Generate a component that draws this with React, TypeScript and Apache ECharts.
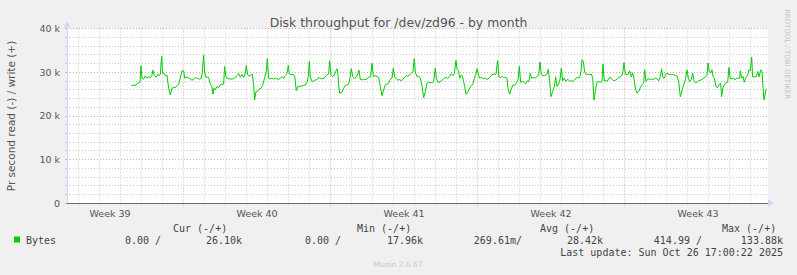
import React, { useEffect, useRef } from "react";
import * as echarts from "echarts";

const chartTitle = "Disk throughput for /dev/zd96 - by month";
const yAxisTitle = "Pr second read (-) / write (+)";
const creditText = "RRDTOOL / TOBI OETIKER";
const versionText = "Munin 2.0.67";

// x axis in days since Monday of week 39 (2025-09-22 00:00)
const viewStart = 1.45;
const viewEnd = 34.83;
const weekStarts = [7, 14, 21, 28];
const weekCenters = [3.5, 10.5, 17.5, 24.5, 31.5];
const weekLabels = ["Week 39", "Week 40", "Week 41", "Week 42", "Week 43"];

const yMax = 40000;
const yStep = 10000;

// legend
const legendHeaders = ["Cur (-/+)", "Min (-/+)", "Avg (-/+)", "Max (-/+)"];
const legendName = "Bytes";
const legendRead = ["0.00 /", "0.00 /", "269.61m/", "414.99 /"];
const legendWrite = ["26.10k", "17.96k", "28.42k", "133.88k"];
const lastUpdate = "Last update: Sun Oct 26 17:00:22 2025";

// [day, bytes per second written]
const writeBytes: [number, number][] = [
  [4.512, 27000], [4.702, 27000], [4.829, 27460], [4.925, 27690], [4.972, 31460], [5.02, 28620], [5.099, 28390], [5.179, 29150],
  [5.258, 28620], [5.337, 28920], [5.417, 28690], [5.496, 29310], [5.544, 30460], [5.607, 29230], [5.702, 28850], [5.782, 29540],
  [5.829, 29150], [5.893, 29540], [5.956, 33610], [6.004, 29770], [6.083, 29690], [6.131, 29150], [6.21, 29310], [6.29, 26310],
  [6.369, 24770], [6.448, 26310], [6.528, 26460], [6.607, 26460], [6.687, 26920], [6.766, 27230], [6.845, 28620], [6.925, 30310],
  [7.004, 30310], [7.052, 28620], [7.131, 28850], [7.242, 28690], [7.321, 28460], [7.401, 28150], [7.48, 28310], [7.56, 28770],
  [7.639, 28620], [7.75, 28390], [7.845, 28620], [7.893, 30000], [7.956, 33850], [8.004, 30000], [8.067, 28770], [8.131, 28920],
  [8.194, 28770], [8.274, 27230], [8.353, 26690], [8.401, 24920], [8.448, 26310], [8.512, 25920], [8.591, 26690], [8.671, 26460],
  [8.75, 27080], [8.829, 27230], [8.909, 27230], [8.956, 31310], [9.004, 29230], [9.067, 28620], [9.147, 28460], [9.226, 28460],
  [9.306, 28390], [9.385, 28540], [9.464, 28690],
  [9.544, 29230], [9.623, 29690], [9.702, 28850], [9.782, 29460], [9.861, 28770], [9.94, 29690], [9.988, 31540], [10.052, 29380],
  [10.131, 29150], [10.21, 29310], [10.274, 29540], [10.337, 27080], [10.385, 23620], [10.448, 25540], [10.528, 25540], [10.591, 26080],
  [10.687, 26310], [10.766, 26920], [10.861, 28770], [10.94, 30150], [10.988, 33080], [11.052, 28620], [11.131, 28460], [11.21, 28620],
  [11.29, 28390], [11.369, 28620], [11.448, 28460], [11.528, 28310], [11.607, 28620], [11.687, 29000], [11.766, 28540], [11.845, 29230],
  [11.925, 29690], [11.988, 31540], [12.036, 29620], [12.115, 29380], [12.21, 29460], [12.29, 29150], [12.369, 25770], [12.448, 26690],
  [12.56, 26770], [12.639, 26850], [12.718, 26920], [12.798, 27080], [12.877, 27690], [12.94, 28920], [12.988, 32460], [13.036, 28920],
  [13.115, 27850], [13.194, 28000], [13.274, 28230], [13.353, 28230], [13.433, 28850], [13.512, 28460], [13.591, 28620], [13.671, 28460],
  [13.75, 29000], [13.829, 29380], [13.909, 29620], [13.956, 32610], [14.02, 29380], [14.099, 29000], [14.179, 29230], [14.242, 30150],
  [14.306, 30770], [14.353, 29540],
  [14.393, 26690], [14.433, 25150], [14.544, 25390], [14.623, 26310], [14.702, 26920], [14.782, 27080], [14.861, 27230], [14.925, 28620],
  [14.988, 30770], [15.052, 29000], [15.131, 28460], [15.21, 28770], [15.274, 29230], [15.353, 30460], [15.417, 28310], [15.528, 28230],
  [15.623, 28310], [15.734, 28390], [15.813, 28850], [15.909, 28920], [15.972, 32000], [16.036, 29000], [16.131, 29150], [16.21, 29000],
  [16.29, 28770], [16.369, 26690], [16.448, 24620], [16.528, 25920], [16.607, 27080], [16.687, 27230], [16.766, 27460], [16.845, 28390],
  [16.925, 28620], [16.988, 30920], [17.052, 28920], [17.131, 28460], [17.21, 28150], [17.29, 28310], [17.369, 28000], [17.448, 28390],
  [17.528, 28850], [17.607, 29150], [17.687, 29080], [17.75, 29310], [17.845, 29690], [17.925, 30150], [17.988, 33080], [18.036, 30000],
  [18.115, 29000], [18.194, 29080], [18.274, 28620], [18.353, 26920], [18.433, 24160], [18.512, 25540], [18.591, 27460], [18.671, 27690],
  [18.75, 27540], [18.829, 27620], [18.909, 27770], [18.988, 30920], [19.036, 28620], [19.115, 27690], [19.194, 27690],
  [19.274, 28000], [19.385, 28460], [19.464, 28770], [19.575, 28620], [19.671, 29000], [19.75, 29690], [19.813, 29230], [19.893, 29540],
  [19.972, 32690], [20.02, 30690], [20.099, 30310], [20.147, 28620], [20.226, 29380], [20.29, 28920], [20.337, 27850], [20.385, 26690],
  [20.448, 24920], [20.544, 25540], [20.623, 26310], [20.702, 26920], [20.782, 27230], [20.845, 28620], [20.925, 29540], [20.972, 30770],
  [21.036, 29540], [21.099, 28620], [21.194, 28770], [21.29, 28460], [21.369, 28620], [21.448, 28310], [21.544, 28620], [21.607, 29000],
  [21.687, 29380], [21.798, 29540], [21.877, 29540], [21.956, 32610], [22.02, 28850], [22.099, 28770], [22.179, 29000], [22.242, 28770],
  [22.321, 28850], [22.401, 28620], [22.448, 26310], [22.528, 24920], [22.607, 26150], [22.687, 27080], [22.766, 26920], [22.845, 27460],
  [22.925, 28150], [22.988, 31310], [23.052, 27690], [23.131, 27850], [23.21, 27690], [23.29, 27380], [23.369, 28000], [23.448, 27850],
  [23.512, 29770], [23.575, 28620], [23.671, 28770], [23.75, 28620], [23.829, 29000], [23.909, 29230], [23.972, 32310], [24.036, 29380],
  [24.115, 29150], [24.194, 29230],
  [24.306, 29540], [24.369, 30620], [24.433, 27850], [24.496, 24390], [24.575, 25540], [24.655, 26690], [24.718, 28920], [24.782, 26690],
  [24.861, 27230], [24.925, 28230], [24.988, 30920], [25.052, 28000], [25.131, 28620], [25.21, 27850], [25.29, 28390], [25.369, 28000],
  [25.448, 28000], [25.528, 27850], [25.607, 28150], [25.687, 28620], [25.766, 28770], [25.861, 28770], [25.925, 30150], [25.972, 32850],
  [26.036, 32460], [26.099, 30000], [26.179, 29380], [26.258, 29540], [26.337, 29380], [26.417, 29540], [26.48, 28770], [26.544, 23620],
  [26.607, 25540], [26.687, 27690], [26.766, 27850], [26.845, 27690], [26.925, 27850], [26.972, 31850], [27.036, 28000], [27.115, 28000],
  [27.194, 28000], [27.258, 28620], [27.321, 28850], [27.401, 28390], [27.48, 28000], [27.56, 28150], [27.639, 28390], [27.718, 28770],
  [27.798, 28920], [27.877, 29230], [27.925, 30150], [27.972, 32150], [28.036, 29540], [28.115, 29380], [28.179, 29540], [28.242, 30310],
  [28.321, 28920], [28.385, 29850], [28.448, 28620], [28.512, 26310], [28.591, 25150], [28.671, 25540], [28.75, 26460], [28.829, 27080],
  [28.909, 27460], [28.956, 30540], [29.02, 27850], [29.099, 28390], [29.179, 28460],
  [29.226, 28230], [29.306, 28460], [29.385, 28310], [29.464, 28620], [29.544, 28460], [29.623, 28000], [29.702, 29000], [29.766, 30770],
  [29.829, 28770], [29.893, 28620], [29.956, 29540], [30.02, 29690], [30.099, 29540], [30.179, 29380], [30.258, 29540], [30.337, 29380],
  [30.417, 29230], [30.496, 29150], [30.575, 27850], [30.655, 24390], [30.734, 25690], [30.813, 27080], [30.893, 28230], [30.972, 30540],
  [31.036, 28620], [31.099, 27850], [31.179, 28230], [31.242, 29770], [31.306, 28000], [31.369, 27540], [31.448, 27690], [31.528, 28000],
  [31.607, 28150], [31.687, 28310], [31.766, 28620], [31.845, 28920], [31.925, 29230], [31.972, 32080], [32.036, 30310], [32.099, 29770],
  [32.163, 30540], [32.21, 29000], [32.274, 28620], [32.353, 26690], [32.433, 26460], [32.512, 27230], [32.575, 27460], [32.623, 24390],
  [32.687, 26460], [32.75, 27080], [32.829, 27540], [32.909, 27690], [32.972, 31080], [33.036, 28460], [33.099, 28460], [33.179, 28620],
  [33.258, 28230], [33.321, 28620], [33.401, 28620], [33.48, 28620], [33.512, 30310], [33.575, 28620], [33.639, 29000], [33.702, 27690],
  [33.766, 28620], [33.861, 29230], [33.925, 30540], [33.988, 30310], [34.052, 33460], [34.099, 28920], [34.179, 28920], [34.274, 28920],
  [34.337, 30150], [34.401, 28920], [34.48, 30540], [34.544, 30150], [34.591, 26690], [34.639, 23620], [34.74, 26100],
];

const GREEN = "#00CC00";
const MINOR = "#c9c9c9";
const MAJOR = "#e6a3a3";
const AXIS = "#CFD6F8";
const TEXT = "#555555";
const SANS = '"DejaVu Sans", sans-serif';
const MONO = '"DejaVu Sans Mono", monospace';

const dayLines: number[] = [];
for (let d = Math.ceil(viewStart); d <= Math.floor(viewEnd); d++) {
  if (!weekStarts.includes(d)) dayLines.push(d);
}

function gridSeries(values: number[], color: string, z: number) {
  return {
    type: "custom",
    silent: true,
    z,
    data: values.map((d) => [d]),
    encode: { x: 0 },
    renderItem: (_params: any, api: any) => {
      const d = api.value(0);
      const top = api.coord([d, yMax]);
      const bottom = api.coord([d, 0]);
      const x = Math.floor(top[0]) + 0.5;
      return {
        type: "line",
        shape: { x1: x, y1: top[1], x2: x, y2: bottom[1] + 3 },
        style: { stroke: color, lineWidth: 1, lineDash: [1, 2] },
      };
    },
  };
}

export default function App() {
  const ref = useRef<HTMLDivElement>(null);
  useEffect(() => {
    if (!ref.current) return;
    const chart = echarts.init(ref.current, null, { renderer: "svg" });

    const headerX = [173, 357, 540, 722];
    const readRight = [161, 341, 522, 702];
    const writeRight = [242, 423, 603, 783];

    const graphics: any[] = [
      {
        type: "text",
        x: 11,
        y: 116,
        rotation: Math.PI / 2,
        style: { text: yAxisTitle, fill: TEXT, font: `10.5px ${SANS}`, textAlign: "center", textVerticalAlign: "middle" },
      },
      {
        type: "text",
        x: 787,
        y: 54,
        rotation: -Math.PI / 2,
        style: { text: creditText, fill: "#c4c4c4", font: `7px ${SANS}`, textAlign: "center", textVerticalAlign: "middle" },
      },
      {
        type: "text",
        x: 398,
        y: 264,
        style: { text: versionText, fill: "#c8c8c8", font: `7.5px ${SANS}`, textAlign: "center", textVerticalAlign: "middle" },
      },
      { type: "rect", shape: { x: 14, y: 236.5, width: 6, height: 6 }, style: { fill: GREEN } },
      {
        type: "text",
        x: 26,
        y: 240,
        style: { text: legendName, fill: "#444", font: `10px ${MONO}`, textAlign: "left", textVerticalAlign: "middle" },
      },
      {
        type: "text",
        x: 783,
        y: 252,
        style: { text: lastUpdate, fill: "#444", font: `10px ${MONO}`, textAlign: "right", textVerticalAlign: "middle" },
      },
    ];
    legendHeaders.forEach((h, i) => {
      graphics.push({
        type: "text",
        x: headerX[i],
        y: 228,
        style: { text: h, fill: "#444", font: `10px ${MONO}`, textAlign: "left", textVerticalAlign: "middle" },
      });
      graphics.push({
        type: "text",
        x: readRight[i],
        y: 240,
        style: { text: legendRead[i], fill: "#444", font: `10px ${MONO}`, textAlign: "right", textVerticalAlign: "middle" },
      });
      graphics.push({
        type: "text",
        x: writeRight[i],
        y: 240,
        style: { text: legendWrite[i], fill: "#444", font: `10px ${MONO}`, textAlign: "right", textVerticalAlign: "middle" },
      });
    });

    const option: any = {
      animation: false,
      backgroundColor: "#F0F0F0",
      title: {
        text: chartTitle,
        left: "center",
        top: 11,
        textStyle: { fontSize: 12.4, fontWeight: "normal", color: TEXT, fontFamily: SANS },
      },
      grid: {
        left: 67,
        right: 29,
        top: 28.5,
        bottom: 72,
        show: true,
        backgroundColor: "#FFFFFF",
        borderWidth: 0,
      },
      xAxis: {
        type: "value",
        min: viewStart,
        max: viewEnd,
        axisLine: {
          show: true,
          lineStyle: { color: AXIS, width: 1 },
          symbol: ["none", "triangle"],
          symbolSize: [7, 6],
          symbolOffset: [0, 3],
        },
        axisTick: { show: false },
        axisLabel: {
          show: true,
          customValues: weekCenters,
          margin: 5,
          color: TEXT,
          fontSize: 9.5,
          fontFamily: SANS,
          formatter: (v: number) => {
            const idx = weekCenters.findIndex((c) => Math.abs(c - v) < 0.01);
            return idx >= 0 ? weekLabels[idx] : "";
          },
        },
        splitLine: { show: false },
      },
      yAxis: {
        type: "value",
        min: 0,
        max: yMax,
        interval: yStep,
        axisLine: {
          show: true,
          lineStyle: { color: AXIS, width: 1 },
          symbol: ["none", "triangle"],
          symbolSize: [7, 6],
          symbolOffset: [0, 4],
        },
        axisTick: { show: true, length: 2, lineStyle: { color: MAJOR } },
        minorTick: { show: true, splitNumber: 5, length: 2, lineStyle: { color: MINOR } },
        axisLabel: {
          color: TEXT,
          fontSize: 9.5,
          fontFamily: SANS,
          margin: 7,
          formatter: (v: number) => (v === 0 ? "0" : `${v / 1000} k`),
        },
        splitLine: { show: true, lineStyle: { color: MAJOR, type: [1, 2], width: 1 } },
        minorSplitLine: { show: true, lineStyle: { color: MINOR, type: [1, 2], width: 1 } },
      },
      graphic: graphics,
      series: [
        gridSeries(dayLines, MINOR, 1),
        gridSeries(weekStarts, MAJOR, 2),
        {
          type: "line",
          data: writeBytes,
          z: 3,
          showSymbol: false,
          symbol: "none",
          silent: true,
          lineStyle: { color: GREEN, width: 1 },
          markLine: {
            silent: true,
            symbol: ["none", "none"],
            label: { show: false },
            lineStyle: { color: "#6a6a78", type: "solid", width: 1, opacity: 1 },
            data: [{ yAxis: 0 }],
          },
        },
      ],
    };
    chart.setOption(option);
    return () => chart.dispose();
  }, []);

  return (
    <div
      ref={ref}
      style={{ position: "absolute", left: 0, top: 0, width: 797, height: 275 }}
    />
  );
}
